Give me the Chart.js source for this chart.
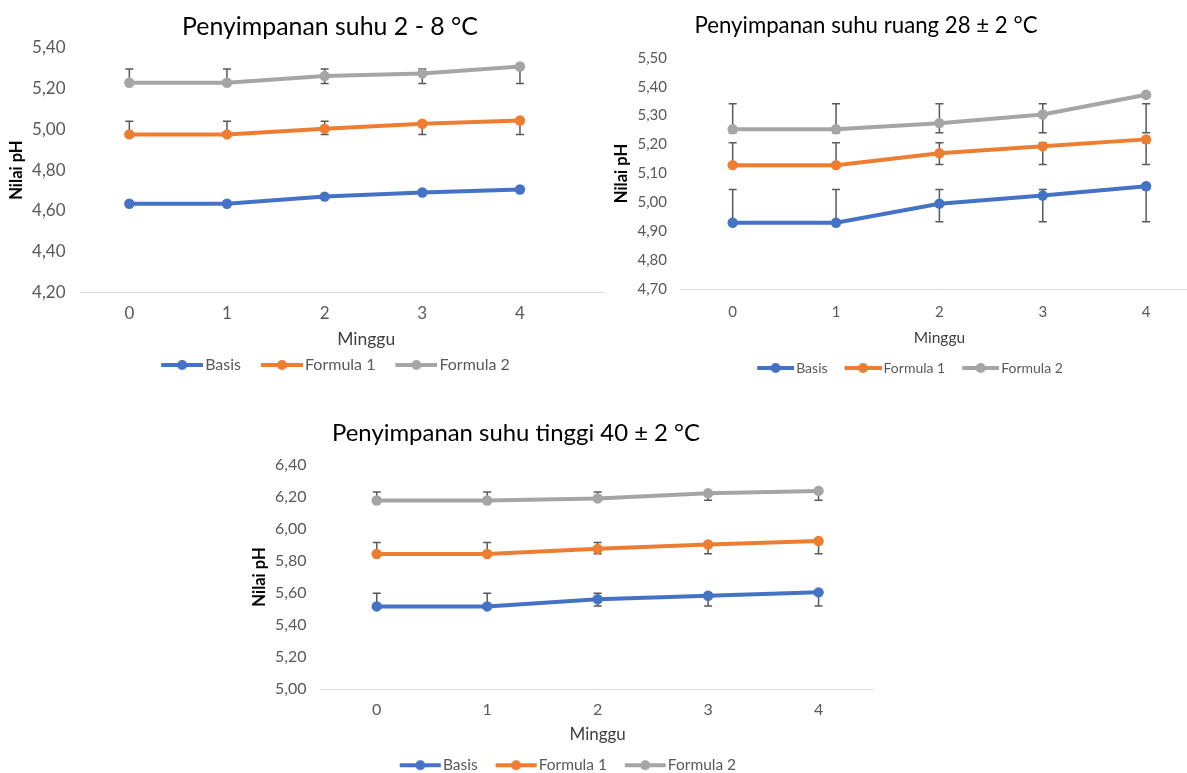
<!DOCTYPE html>
<html>
<head>
<meta charset="utf-8">
<script src="https://cdn.jsdelivr.net/npm/chart.js@4.4.0/dist/chart.umd.min.js"></script>
<style>
  html, body { margin: 0; padding: 0; background: #fff; }
  body { position: relative; width: 1187px; height: 773px; overflow: hidden; }
  canvas { position: absolute; }
</style>
</head>
<body>
<canvas id="cold" width="657" height="383" style="left:0;top:0;z-index:1"></canvas>
<canvas id="room" width="598" height="385" style="left:605px;top:0;z-index:2"></canvas>
<canvas id="hot" width="634" height="383" style="left:245px;top:400px;z-index:1"></canvas>
<script>
const FONT = 'Lato, "Noto Sans", sans-serif';

// shared
const weeks = [0, 1, 2, 3, 4];
const seriesLabels = ['Basis', 'Formula 1', 'Formula 2'];
const seriesColors = ['#4472C4', '#ED7D31', '#A5A5A5'];

// Penyimpanan suhu 2 - 8 °C
const coldBasis = [4.635, 4.635, 4.670, 4.690, 4.705];
const coldF1 = [4.975, 4.975, 5.003, 5.027, 5.043];
const coldF2 = [5.228, 5.228, 5.261, 5.274, 5.308];
const coldF1Err = [4.975, 5.040];   // error bar low / high
const coldF2Err = [5.225, 5.295];
const coldTicks = [4.2, 5.4, 0.2];  // min, max, step

// Penyimpanan suhu ruang 28 ± 2 °C
const roomBasis = [4.930, 4.930, 4.996, 5.024, 5.056];
const roomF1 = [5.129, 5.129, 5.170, 5.194, 5.218];
const roomF2 = [5.253, 5.253, 5.274, 5.304, 5.372];
const roomBasisErr = [4.934, 5.045];
const roomF1Err = [5.131, 5.206];
const roomF2Err = [5.241, 5.341];
const roomTicks = [4.7, 5.5, 0.1];

// Penyimpanan suhu tinggi 40 ± 2 °C
const hotBasis = [5.516, 5.516, 5.561, 5.583, 5.604];
const hotF1 = [5.844, 5.844, 5.876, 5.903, 5.925];
const hotF2 = [6.178, 6.178, 6.191, 6.223, 6.238];
const hotBasisErr = [5.519, 5.598];
const hotF1Err = [5.846, 5.915];
const hotF2Err = [6.179, 6.231];
const hotTicks = [5.0, 6.4, 0.2];

// white background so the right chart covers the left one's axis tail
const whiteBg = {
    id: 'whiteBg',
    beforeDraw(chart) {
        const ctx = chart.ctx;
        ctx.save();
        ctx.fillStyle = '#fff';
        ctx.fillRect(0, 0, chart.width, chart.height);
        ctx.restore();
    }
};

// Excel style error bars (same range for every point of a series)
const errorBars = {
    id: 'errorBars',
    beforeDatasetsDraw(chart, args, opts) {
        const {ctx, scales: {x, y}} = chart;
        ctx.save();
        ctx.strokeStyle = '#595959';
        ctx.lineWidth = 1.5;
        chart.data.datasets.forEach(ds => {
            if (!ds.errRange) return;
            const yl = y.getPixelForValue(ds.errRange[0]);
            const yh = y.getPixelForValue(ds.errRange[1]);
            ds.data.forEach(p => {
                const px = x.getPixelForValue(p.x);
                ctx.beginPath();
                ctx.moveTo(px, yl); ctx.lineTo(px, yh);
                ctx.moveTo(px - opts.cap, yl); ctx.lineTo(px + opts.cap, yl);
                ctx.moveTo(px - opts.cap, yh); ctx.lineTo(px + opts.cap, yh);
                ctx.stroke();
            });
        });
        ctx.restore();
    }
};

// free placed chart title, sized to a given width
const chartTitle = {
    id: 'chartTitle',
    afterDraw(chart, args, opts) {
        const ctx = chart.ctx;
        ctx.save();
        ctx.font = '20px ' + FONT;
        const size = 20 * opts.width / ctx.measureText(opts.text).width;
        ctx.font = size.toFixed(2) + 'px ' + FONT;
        ctx.fillStyle = '#000';
        ctx.textAlign = 'center';
        ctx.textBaseline = 'middle';
        ctx.fillText(opts.text, opts.x, opts.y);
        ctx.restore();
    }
};

// line + marker legend symbol
function legendIcon(color, lay) {
    const a = lay.gap - lay.legendPad;
    const w = a + lay.lineLen - lay.legendSize / 2 + 2;
    const half = Math.max(w / 2 - a, a + lay.lineLen - w / 2);
    const c = document.createElement('canvas');
    c.width = Math.round(half * 2);
    c.height = 14;
    const g = c.getContext('2d');
    const x0 = a - w / 2 + half;
    g.strokeStyle = color;
    g.lineWidth = 3.8;
    g.beginPath(); g.moveTo(x0, 7); g.lineTo(x0 + lay.lineLen, 7); g.stroke();
    g.fillStyle = color;
    g.beginPath(); g.arc(x0 + lay.lineLen / 2, 7, 5, 0, Math.PI * 2); g.fill();
    return {icon: c, boxWidth: w};
}

function buildChart(id, title, lay, series, errs, yTicks) {
    let boxWidth = 0;
    const datasets = series.map((vals, i) => {
        const li = legendIcon(seriesColors[i], lay);
        boxWidth = li.boxWidth;
        return {
            label: seriesLabels[i],
            data: weeks.map((w, j) => ({x: w, y: vals[j]})),
            borderColor: seriesColors[i],
            backgroundColor: seriesColors[i],
            borderWidth: 4,
            pointRadius: 5.2,
            pointBorderWidth: 0,
            pointBackgroundColor: seriesColors[i],
            tension: 0,
            clip: false,
            errRange: errs[i],
            legendIcon: li.icon
        };
    });

    return new Chart(document.getElementById(id).getContext('2d'), {
        type: 'line',
        data: {datasets},
        plugins: [whiteBg, errorBars, chartTitle],
        options: {
            responsive: false,
            animation: false,
            events: [],
            layout: {padding: {top: lay.top, left: 0, right: 0, bottom: 0}},
            scales: {
                x: {
                    type: 'linear',
                    min: -0.5,
                    max: lay.xMax,
                    afterBuildTicks: s => { s.ticks = weeks.map(v => ({value: v})); },
                    afterFit: s => { s.height = lay.xHeight; },
                    ticks: {
                        color: '#595959',
                        padding: lay.xTickPad,
                        font: {family: FONT, size: lay.tickSize},
                        callback: v => String(v)
                    },
                    grid: {display: false, drawTicks: false},
                    border: {display: true, color: '#d9d9d9', width: 1},
                    title: {
                        display: true,
                        text: 'Minggu',
                        color: '#404040',
                        font: {family: FONT, size: lay.xTitleSize},
                        padding: {top: 0, bottom: lay.xTitlePad}
                    }
                },
                y: {
                    min: yTicks[0],
                    max: yTicks[1],
                    afterFit: s => { s.width = lay.yWidth; },
                    ticks: {
                        stepSize: yTicks[2],
                        color: '#595959',
                        padding: lay.yTickPad,
                        font: {family: FONT, size: lay.tickSize},
                        callback: v => v.toFixed(2).replace('.', ',')
                    },
                    grid: {display: false, drawTicks: false},
                    border: {display: false},
                    title: {
                        display: true,
                        text: 'Nilai pH',
                        color: '#000',
                        font: {family: FONT, size: 16.5, weight: 'bold'},
                        padding: {top: lay.yTitlePad, bottom: 0}
                    }
                }
            },
            plugins: {
                tooltip: {enabled: false},
                errorBars: {cap: 4},
                chartTitle: {text: title, x: lay.titleX, y: lay.titleY, width: lay.titleW},
                legend: {
                    position: 'bottom',
                    labels: {
                        usePointStyle: true,
                        pointStyleWidth: boxWidth,
                        padding: lay.legendPad,
                        color: '#595959',
                        font: {family: FONT, size: lay.legendSize},
                        generateLabels: chart => chart.data.datasets.map((ds, i) => ({
                            text: ds.label,
                            pointStyle: ds.legendIcon,
                            fillStyle: ds.borderColor,
                            strokeStyle: ds.borderColor,
                            lineWidth: 0,
                            hidden: false,
                            datasetIndex: i,
                            fontColor: '#595959'
                        }))
                    }
                }
            }
        }
    });
}

buildChart('cold', 'Penyimpanan suhu 2 - 8 °C', {
    top: 47.7, xMax: 5.35, xHeight: 58.5, xTickPad: 10.5, tickSize: 17,
    xTitleSize: 17.5, xTitlePad: 0.8, yWidth: 80.5, yTickPad: 15, yTitlePad: 7,
    titleX: 330, titleY: 27, titleW: 296,
    lineLen: 42, gap: 20, legendPad: 6, legendSize: 16
}, [coldBasis, coldF1, coldF2], [null, coldF1Err, coldF2Err], coldTicks);

buildChart('room', 'Penyimpanan suhu ruang 28 ± 2 °C', {
    top: 57.7, xMax: 4.5, xHeight: 66.6, xTickPad: 13.5, tickSize: 15,
    xTitleSize: 15.5, xTitlePad: 8.3, yWidth: 76, yTickPad: 14, yTitlePad: 7,
    titleX: 261, titleY: 26, titleW: 343,
    lineLen: 37, gap: 17, legendPad: 5, legendSize: 14
}, [roomBasis, roomF1, roomF2], [roomBasisErr, roomF1Err, roomF2Err], roomTicks);

buildChart('hot', 'Penyimpanan suhu tinggi 40 ± 2 °C', {
    top: 65, xMax: 4.5, xHeight: 62.5, xTickPad: 11, tickSize: 16,
    xTitleSize: 17, xTitlePad: 6.35, yWidth: 76.5, yTickPad: 15, yTitlePad: 5,
    titleX: 271, titleY: 33, titleW: 368,
    lineLen: 41, gap: 18, legendPad: 6, legendSize: 15.5
}, [hotBasis, hotF1, hotF2], [hotBasisErr, hotF1Err, hotF2Err], hotTicks);
</script>
</body>
</html>
